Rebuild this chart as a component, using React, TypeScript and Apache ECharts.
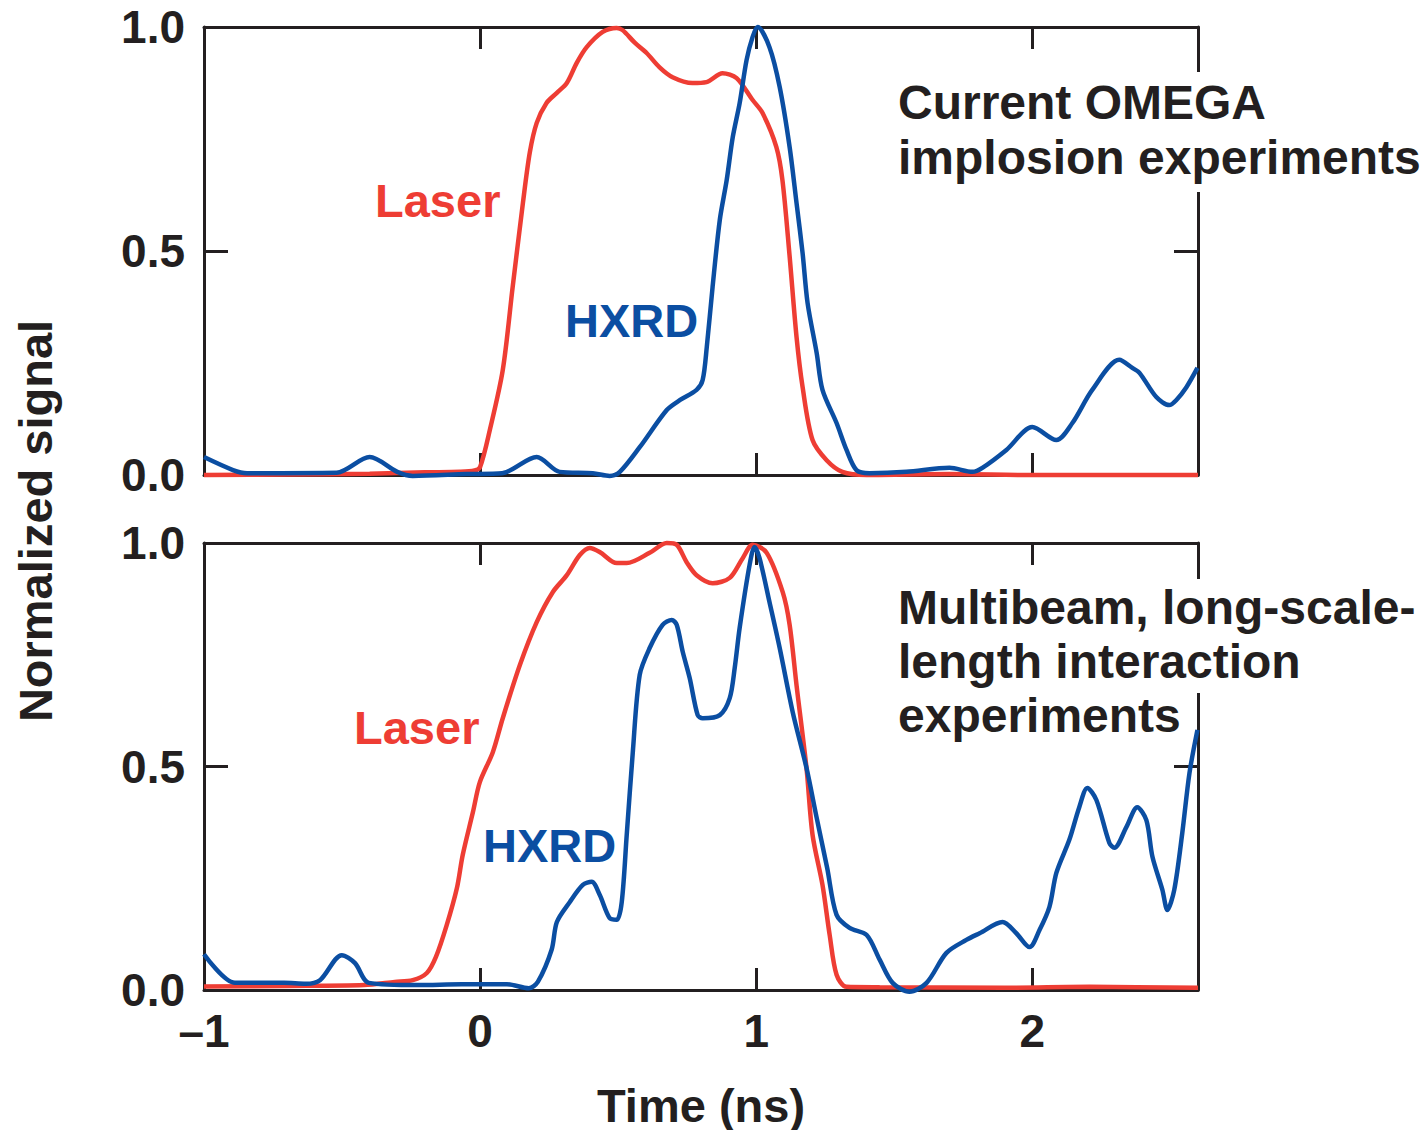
import React, { useEffect, useRef } from 'react';
import * as echarts from 'echarts';

// Time axis ticks (ns) and signal ticks
const timeTicks = [-1, 0, 1, 2];
const signalTicks = [0, 0.5, 1];

// Top panel: Current OMEGA implosion experiments
const topLaser: number[][] = [
  [-1.0, 0.0], [-0.7, 0.001], [-0.4, 0.003], [-0.2, 0.006], [-0.073, 0.007], [-0.02, 0.01],
  [0.0, 0.018], [0.035, 0.10], [0.082, 0.234], [0.118, 0.42], [0.155, 0.607], [0.18, 0.72],
  [0.205, 0.786], [0.24, 0.83], [0.278, 0.853], [0.314, 0.875], [0.35, 0.92], [0.386, 0.955],
  [0.444, 0.989], [0.495, 0.998], [0.516, 0.993], [0.56, 0.965], [0.603, 0.942], [0.65, 0.91],
  [0.697, 0.888], [0.769, 0.875], [0.82, 0.877], [0.878, 0.897], [0.929, 0.886], [0.987, 0.837],
  [1.023, 0.808], [1.073, 0.732], [1.095, 0.658], [1.12, 0.495], [1.146, 0.308], [1.168, 0.196],
  [1.204, 0.078], [1.255, 0.033], [1.312, 0.007], [1.4, 0.0], [1.7, 0.002], [2.0, 0.0], [2.6, 0.0],
];
const topHxrd: number[][] = [
  [-1.0, 0.04], [-0.895, 0.011], [-0.844, 0.004], [-0.52, 0.005], [-0.4, 0.04], [-0.3, 0.007],
  [-0.244, -0.002], [-0.05, 0.002], [0.08, 0.004], [0.205, 0.04], [0.288, 0.007], [0.408, 0.004],
  [0.469, -0.002], [0.506, 0.007], [0.578, 0.062], [0.676, 0.145], [0.723, 0.167], [0.784, 0.19],
  [0.806, 0.212], [0.821, 0.286], [0.842, 0.42], [0.868, 0.569], [0.893, 0.658], [0.915, 0.754],
  [0.94, 0.83], [0.965, 0.926], [0.987, 0.978], [1.005, 1.0], [1.048, 0.955], [1.085, 0.866],
  [1.121, 0.732], [1.146, 0.607], [1.168, 0.495], [1.186, 0.384], [1.219, 0.272], [1.24, 0.19],
  [1.291, 0.116], [1.327, 0.056], [1.363, 0.011], [1.41, 0.004], [1.544, 0.007], [1.7, 0.016],
  [1.783, 0.007], [1.819, 0.016], [1.906, 0.056], [2.0, 0.107], [2.087, 0.078], [2.145, 0.116],
  [2.217, 0.19], [2.315, 0.257], [2.362, 0.239], [2.388, 0.228], [2.449, 0.174], [2.496, 0.156],
  [2.521, 0.167], [2.558, 0.196], [2.598, 0.239],
];

// Bottom panel: Multibeam, long-scale-length interaction experiments
const bottomLaser: number[][] = [
  [-1.0, 0.008], [-0.7, 0.009], [-0.421, 0.011], [-0.309, 0.018], [-0.244, 0.022], [-0.193, 0.038],
  [-0.16, 0.074], [-0.121, 0.145], [-0.084, 0.228], [-0.063, 0.302], [-0.026, 0.398], [-0.001, 0.465],
  [0.046, 0.532], [0.082, 0.608], [0.144, 0.727], [0.205, 0.823], [0.263, 0.89], [0.314, 0.928],
  [0.361, 0.973], [0.397, 0.989], [0.433, 0.98], [0.495, 0.955], [0.531, 0.955], [0.614, 0.978],
  [0.676, 1.0], [0.712, 0.996], [0.748, 0.957], [0.784, 0.928], [0.842, 0.91], [0.904, 0.922],
  [0.951, 0.966], [0.987, 0.996], [1.038, 0.978], [1.096, 0.89], [1.121, 0.817], [1.146, 0.682],
  [1.182, 0.497], [1.204, 0.347], [1.24, 0.235], [1.266, 0.123], [1.291, 0.034], [1.327, 0.007],
  [1.447, 0.006], [1.9, 0.005], [2.207, 0.007], [2.6, 0.005],
];
const bottomHxrd: number[][] = [
  [-1.0, 0.08], [-0.888, 0.016], [-0.808, 0.016], [-0.71, 0.016], [-0.631, 0.014], [-0.58, 0.022],
  [-0.501, 0.078], [-0.453, 0.06], [-0.403, 0.016], [-0.225, 0.011], [-0.066, 0.013], [0.097, 0.013],
  [0.176, 0.004], [0.209, 0.018], [0.259, 0.09], [0.278, 0.152], [0.325, 0.197], [0.372, 0.235],
  [0.404, 0.242], [0.433, 0.213], [0.469, 0.161], [0.495, 0.157], [0.513, 0.197], [0.531, 0.347],
  [0.553, 0.532], [0.578, 0.705], [0.614, 0.765], [0.661, 0.817], [0.694, 0.828], [0.712, 0.817],
  [0.734, 0.756], [0.759, 0.698], [0.788, 0.615], [0.806, 0.608], [0.868, 0.615], [0.904, 0.653],
  [0.922, 0.72], [0.94, 0.81], [0.976, 0.951], [0.994, 0.991], [1.012, 0.966], [1.048, 0.868],
  [1.085, 0.765], [1.132, 0.622], [1.182, 0.497], [1.219, 0.385], [1.257, 0.273], [1.291, 0.168],
  [1.338, 0.139], [1.4, 0.123], [1.447, 0.068], [1.494, 0.016], [1.555, -0.004], [1.617, 0.016],
  [1.689, 0.083], [1.761, 0.112], [1.809, 0.127], [1.892, 0.152], [1.942, 0.127], [1.99, 0.096],
  [2.026, 0.134], [2.062, 0.186], [2.087, 0.262], [2.134, 0.336], [2.17, 0.409], [2.199, 0.452],
  [2.232, 0.425], [2.279, 0.329], [2.297, 0.318], [2.341, 0.365], [2.38, 0.409], [2.413, 0.38],
  [2.435, 0.298], [2.471, 0.224], [2.489, 0.179], [2.514, 0.224], [2.543, 0.351], [2.569, 0.485],
  [2.598, 0.582],
];

const INK = '#231f20';
const RED = '#ee3d34';
const BLUE = '#0b4ea2';
const FONT = "'Liberation Sans', Arial, Helvetica, sans-serif";

function xAxis(gridIndex: number, position: 'top' | 'bottom', labels: boolean) {
  return {
    type: 'value',
    gridIndex,
    position,
    min: -1,
    max: 2.6,
    interval: 1,
    axisLine: { show: true, onZero: false, lineStyle: { color: INK, width: 3 } },
    axisTick: { show: true, inside: true, length: 22, lineStyle: { color: INK, width: 3 } },
    splitLine: { show: false },
    axisLabel: {
      show: labels,
      margin: 18,
      color: INK,
      fontFamily: FONT,
      fontWeight: 'bold',
      fontSize: 46,
      formatter: (v: number) =>
        timeTicks.includes(v) ? (v < 0 ? '\u2013' + Math.abs(v) : String(v)) : '',
    },
  };
}

function yAxis(gridIndex: number, position: 'left' | 'right', labels: boolean) {
  return {
    type: 'value',
    gridIndex,
    position,
    min: 0,
    max: 1,
    interval: 0.5,
    axisLine: { show: true, onZero: false, lineStyle: { color: INK, width: 3 } },
    axisTick: { show: true, inside: true, length: 24, lineStyle: { color: INK, width: 3 } },
    splitLine: { show: false },
    axisLabel: {
      show: labels,
      margin: 19,
      color: INK,
      fontFamily: FONT,
      fontWeight: 'bold',
      fontSize: 46,
      formatter: (v: number) => (signalTicks.includes(v) ? v.toFixed(1) : ''),
    },
  };
}

function label(text: string, x: number, y: number, color: string, size: number, z: number, extra: any = {}) {
  return {
    type: 'text',
    x,
    y,
    z,
    style: {
      text,
      fill: color,
      font: `bold ${size}px ${FONT}`,
      align: 'left',
      verticalAlign: 'middle',
      textAlign: 'left',
      textVerticalAlign: 'middle',
      ...extra,
    },
  };
}

function lineSeries(data: number[][], idx: number, color: string) {
  return {
    type: 'line',
    xAxisIndex: idx,
    yAxisIndex: idx,
    data,
    smooth: 0.3,
    showSymbol: false,
    symbol: 'none',
    clip: false,
    lineStyle: { color, width: 4.5 },
    z: 5,
  };
}

export default function App() {
  const ref = useRef<HTMLDivElement>(null);
  useEffect(() => {
    const chart = echarts.init(ref.current!, null, { renderer: 'svg' });
    chart.setOption({
      animation: false,
      backgroundColor: '#ffffff',
      grid: [
        { left: 204, top: 27, width: 994, height: 448 },
        { left: 204, top: 543, width: 994, height: 447 },
      ],
      xAxis: [
        xAxis(0, 'bottom', false),
        xAxis(0, 'top', false),
        xAxis(1, 'bottom', true),
        xAxis(1, 'top', false),
      ],
      yAxis: [
        yAxis(0, 'left', true),
        yAxis(0, 'right', false),
        yAxis(1, 'left', true),
        yAxis(1, 'right', false),
      ],
      series: [
        lineSeries(topLaser, 0, RED),
        lineSeries(topHxrd, 0, BLUE),
        lineSeries(bottomLaser, 2, RED),
        lineSeries(bottomHxrd, 2, BLUE),
      ],
      graphic: [
        label('implosion experiments', 898, 157, INK, 48, 101, { backgroundColor: '#fff', padding: [4, 0, 18, 0] }),
        label('Current OMEGA', 898, 102, INK, 48, 102, { backgroundColor: '#fff', padding: [8, 0, 4, 0] }),
        label('length interaction', 898, 661, INK, 48, 101, { backgroundColor: '#fff', padding: [0, 0, 16, 0] }),
        label('Multibeam, long-scale-', 898, 607, INK, 48, 102, { backgroundColor: '#fff', padding: [4, 0, 4, 0] }),
        label('experiments', 898, 715, INK, 48, 103),
        label('Laser', 375, 200, RED, 47, 100),
        label('HXRD', 565, 320, BLUE, 47, 100),
        label('Laser', 354, 727, RED, 47, 100),
        label('HXRD', 483, 845, BLUE, 47, 100),
        {
          type: 'text',
          x: 35,
          y: 521,
          rotation: Math.PI / 2,
          z: 100,
          style: {
            text: 'Normalized signal',
            fill: INK,
            font: `bold 47px ${FONT}`,
            align: 'center',
            verticalAlign: 'middle',
            textAlign: 'center',
            textVerticalAlign: 'middle',
          },
        },
        {
          type: 'text',
          x: 701,
          y: 1105,
          z: 100,
          style: {
            text: 'Time (ns)',
            fill: INK,
            font: `bold 47px ${FONT}`,
            align: 'center',
            verticalAlign: 'middle',
            textAlign: 'center',
            textVerticalAlign: 'middle',
          },
        },
      ],
    });
    return () => chart.dispose();
  }, []);
  return (
    <div
      ref={ref}
      style={{ position: 'fixed', left: 0, top: 0, width: 1424, height: 1130, background: '#fff' }}
    />
  );
}
